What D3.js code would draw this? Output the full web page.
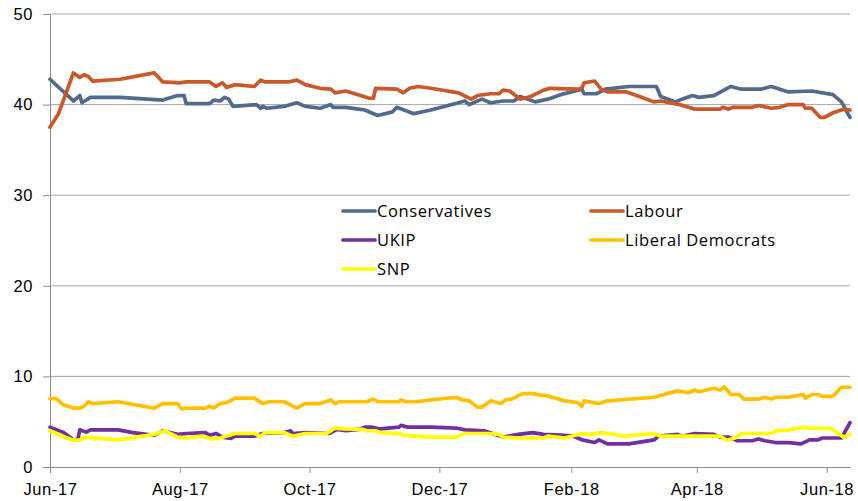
<!DOCTYPE html>
<html>
<head>
<meta charset="utf-8">
<script src="https://cdn.jsdelivr.net/npm/d3@7"></script>
<style>
  body { margin: 0; background: #fff; }
  svg { display: block; }
</style>
</head>
<body>
<div id="chart"></div>
<script>
// poll averages, [date, percent]
const conservatives = [
  ["2017-06-01", 42.8], ["2017-06-12", 40.4], ["2017-06-15", 41.0], ["2017-06-16", 40.2], ["2017-06-20", 40.8],
  ["2017-07-04", 40.8], ["2017-07-24", 40.5], ["2017-07-31", 41.0], ["2017-08-03", 41.0], ["2017-08-04", 40.1],
  ["2017-08-15", 40.1], ["2017-08-17", 40.5], ["2017-08-20", 40.4], ["2017-08-22", 40.8], ["2017-08-24", 40.6],
  ["2017-08-26", 39.8], ["2017-09-06", 40.0], ["2017-09-08", 39.6], ["2017-09-09", 39.8], ["2017-09-11", 39.6],
  ["2017-09-19", 39.8], ["2017-09-25", 40.2], ["2017-09-29", 39.8], ["2017-10-06", 39.6], ["2017-10-11", 40.0],
  ["2017-10-12", 39.7], ["2017-10-18", 39.7], ["2017-10-24", 39.5], ["2017-10-27", 39.4], ["2017-11-02", 38.8],
  ["2017-11-09", 39.2], ["2017-11-11", 39.7], ["2017-11-19", 39.0], ["2017-11-27", 39.4], ["2017-12-10", 40.2],
  ["2017-12-13", 40.4], ["2017-12-15", 40.0], ["2017-12-21", 40.6], ["2017-12-25", 40.2], ["2017-12-31", 40.4],
  ["2018-01-05", 40.4], ["2018-01-08", 40.9], ["2018-01-15", 40.3], ["2018-01-21", 40.6], ["2018-01-27", 41.1],
  ["2018-02-06", 41.7], ["2018-02-07", 41.2], ["2018-02-13", 41.2], ["2018-02-17", 41.7], ["2018-02-28", 42.0],
  ["2018-03-13", 42.0], ["2018-03-15", 40.9], ["2018-03-22", 40.3], ["2018-03-25", 40.6], ["2018-03-30", 41.0],
  ["2018-04-02", 40.8], ["2018-04-09", 41.0], ["2018-04-17", 42.0], ["2018-04-22", 41.7], ["2018-05-01", 41.7],
  ["2018-05-06", 42.0], ["2018-05-10", 41.7], ["2018-05-14", 41.4], ["2018-05-25", 41.5], ["2018-06-04", 41.1],
  ["2018-06-08", 40.3], ["2018-06-12", 38.6]
]

const labour = [
  ["2017-06-01", 37.5], ["2017-06-05", 39.0], ["2017-06-12", 43.5], ["2017-06-15", 43.0], ["2017-06-17", 43.3],
  ["2017-06-19", 43.1], ["2017-06-21", 42.6], ["2017-07-04", 42.8], ["2017-07-20", 43.5], ["2017-07-24", 42.5],
  ["2017-08-01", 42.4], ["2017-08-04", 42.5], ["2017-08-15", 42.5], ["2017-08-18", 42.0], ["2017-08-21", 42.4],
  ["2017-08-23", 41.9], ["2017-08-27", 42.2], ["2017-09-05", 42.0], ["2017-09-08", 42.7], ["2017-09-10", 42.5],
  ["2017-09-21", 42.5], ["2017-09-25", 42.7], ["2017-09-29", 42.2], ["2017-10-06", 41.8], ["2017-10-11", 41.7],
  ["2017-10-13", 41.3], ["2017-10-18", 41.5], ["2017-10-25", 41.0], ["2017-10-29", 40.7], ["2017-10-31", 40.7],
  ["2017-11-01", 41.8], ["2017-11-11", 41.7], ["2017-11-14", 41.3], ["2017-11-17", 41.8], ["2017-11-21", 42.0],
  ["2017-11-27", 41.8], ["2017-12-10", 41.3], ["2017-12-16", 40.6], ["2017-12-19", 41.0], ["2017-12-25", 41.2],
  ["2017-12-29", 41.2], ["2017-12-31", 41.6], ["2018-01-03", 41.5], ["2018-01-08", 40.6], ["2018-01-13", 40.9],
  ["2018-01-19", 41.6], ["2018-01-22", 41.8], ["2018-02-04", 41.7], ["2018-02-06", 41.8], ["2018-02-07", 42.4],
  ["2018-02-12", 42.6], ["2018-02-15", 41.7], ["2018-02-18", 41.4], ["2018-02-27", 41.4], ["2018-03-06", 40.8],
  ["2018-03-12", 40.3], ["2018-03-15", 40.4], ["2018-03-24", 40.0], ["2018-03-27", 39.8], ["2018-03-31", 39.5],
  ["2018-04-12", 39.5], ["2018-04-13", 39.7], ["2018-04-16", 39.5], ["2018-04-18", 39.7], ["2018-04-27", 39.7],
  ["2018-04-30", 39.9], ["2018-05-06", 39.6], ["2018-05-10", 39.7], ["2018-05-14", 40.0], ["2018-05-21", 40.0],
  ["2018-05-22", 39.6], ["2018-05-25", 39.6], ["2018-05-29", 38.6], ["2018-05-31", 38.6], ["2018-06-04", 39.1],
  ["2018-06-09", 39.5], ["2018-06-12", 39.4]
]

const ukip = [
  ["2017-06-01", 4.4], ["2017-06-07", 3.85], ["2017-06-12", 3.0], ["2017-06-14", 3.0], ["2017-06-15", 4.1],
  ["2017-06-18", 3.85], ["2017-06-20", 4.1], ["2017-07-03", 4.1], ["2017-07-10", 3.8], ["2017-07-20", 3.5],
  ["2017-07-24", 4.0], ["2017-07-31", 3.6], ["2017-08-04", 3.7], ["2017-08-13", 3.8], ["2017-08-15", 3.5],
  ["2017-08-18", 3.7], ["2017-08-21", 3.3], ["2017-08-25", 3.15], ["2017-08-27", 3.4], ["2017-09-05", 3.4],
  ["2017-09-09", 3.7], ["2017-09-19", 3.8], ["2017-09-22", 4.0], ["2017-09-23", 3.7], ["2017-09-29", 3.8],
  ["2017-10-10", 3.7], ["2017-10-14", 4.15], ["2017-10-18", 4.0], ["2017-10-24", 4.15], ["2017-10-27", 4.4],
  ["2017-10-30", 4.4], ["2017-11-03", 4.2], ["2017-11-12", 4.4], ["2017-11-13", 4.6], ["2017-11-16", 4.4],
  ["2017-11-27", 4.4], ["2017-12-09", 4.3], ["2017-12-13", 4.1], ["2017-12-22", 4.0], ["2017-12-31", 3.3],
  ["2018-01-07", 3.6], ["2018-01-14", 3.8], ["2018-01-19", 3.6], ["2018-01-29", 3.5], ["2018-02-02", 3.4],
  ["2018-02-06", 3.0], ["2018-02-12", 2.7], ["2018-02-14", 3.0], ["2018-02-18", 2.55], ["2018-02-28", 2.55],
  ["2018-03-12", 3.0], ["2018-03-14", 3.4], ["2018-03-23", 3.6], ["2018-03-25", 3.4], ["2018-03-31", 3.7],
  ["2018-04-09", 3.6], ["2018-04-12", 3.3], ["2018-04-16", 3.3], ["2018-04-20", 2.9], ["2018-04-27", 2.9],
  ["2018-04-30", 3.1], ["2018-05-03", 2.9], ["2018-05-08", 2.7], ["2018-05-14", 2.7], ["2018-05-20", 2.55],
  ["2018-05-24", 3.0], ["2018-05-28", 3.0], ["2018-05-30", 3.2], ["2018-06-08", 3.2], ["2018-06-12", 4.9]
]

const libDems = [
  ["2017-06-01", 7.55], ["2017-06-04", 7.55], ["2017-06-07", 6.9], ["2017-06-12", 6.5], ["2017-06-15", 6.5],
  ["2017-06-17", 6.7], ["2017-06-19", 7.2], ["2017-06-21", 7.0], ["2017-07-03", 7.2], ["2017-07-20", 6.5],
  ["2017-07-24", 7.0], ["2017-07-31", 7.0], ["2017-08-02", 6.4], ["2017-08-04", 6.5], ["2017-08-13", 6.5],
  ["2017-08-15", 6.7], ["2017-08-17", 6.5], ["2017-08-20", 7.0], ["2017-08-23", 7.1], ["2017-08-27", 7.6],
  ["2017-09-05", 7.6], ["2017-09-09", 7.0], ["2017-09-12", 7.2], ["2017-09-19", 7.2], ["2017-09-25", 6.5],
  ["2017-09-29", 7.0], ["2017-10-06", 7.0], ["2017-10-11", 7.4], ["2017-10-13", 7.0], ["2017-10-15", 7.2],
  ["2017-10-28", 7.2], ["2017-10-31", 7.5], ["2017-11-02", 7.2], ["2017-11-12", 7.2], ["2017-11-13", 7.4],
  ["2017-11-15", 7.2], ["2017-11-20", 7.2], ["2017-11-27", 7.4], ["2017-12-09", 7.7], ["2017-12-12", 7.4],
  ["2017-12-15", 7.3], ["2017-12-19", 6.6], ["2017-12-21", 6.6], ["2017-12-25", 7.3], ["2017-12-30", 7.0],
  ["2018-01-01", 7.4], ["2018-01-04", 7.5], ["2018-01-09", 8.1], ["2018-01-14", 8.1], ["2018-01-18", 7.9],
  ["2018-01-20", 7.9], ["2018-01-29", 7.3], ["2018-02-04", 7.1], ["2018-02-06", 6.7], ["2018-02-07", 7.3],
  ["2018-02-14", 7.0], ["2018-02-18", 7.3], ["2018-03-12", 7.7], ["2018-03-18", 8.1], ["2018-03-23", 8.4],
  ["2018-03-28", 8.2], ["2018-03-31", 8.5], ["2018-04-02", 8.3], ["2018-04-09", 8.7], ["2018-04-12", 8.5],
  ["2018-04-14", 8.85], ["2018-04-17", 8.0], ["2018-04-21", 8.0], ["2018-04-23", 7.5], ["2018-04-30", 7.5],
  ["2018-05-03", 7.7], ["2018-05-06", 7.5], ["2018-05-08", 7.7], ["2018-05-14", 7.7], ["2018-05-21", 8.0],
  ["2018-05-22", 7.6], ["2018-05-25", 8.0], ["2018-05-28", 8.0], ["2018-05-30", 7.8], ["2018-06-04", 7.8],
  ["2018-06-08", 8.8], ["2018-06-12", 8.8]
]

const snp = [
  ["2017-06-01", 4.0], ["2017-06-07", 3.4], ["2017-06-12", 2.96], ["2017-06-15", 2.96], ["2017-06-17", 3.3],
  ["2017-07-03", 3.0], ["2017-07-20", 3.6], ["2017-07-25", 4.0], ["2017-07-31", 3.3], ["2017-08-04", 3.2],
  ["2017-08-12", 3.4], ["2017-08-16", 3.1], ["2017-08-20", 3.2], ["2017-08-27", 3.7], ["2017-09-05", 3.7],
  ["2017-09-08", 3.4], ["2017-09-10", 3.8], ["2017-09-19", 3.8], ["2017-09-23", 3.4], ["2017-09-29", 3.7],
  ["2017-10-09", 3.7], ["2017-10-13", 4.3], ["2017-10-18", 4.2], ["2017-10-26", 4.15], ["2017-10-28", 4.0],
  ["2017-11-01", 4.0], ["2017-11-03", 3.8], ["2017-11-12", 3.7], ["2017-11-14", 3.5], ["2017-11-27", 3.3],
  ["2017-12-09", 3.3], ["2017-12-13", 3.7], ["2017-12-25", 3.7], ["2017-12-29", 3.6], ["2017-12-31", 3.3],
  ["2018-01-07", 3.2], ["2018-01-19", 3.2], ["2018-01-21", 3.4], ["2018-01-29", 3.2], ["2018-02-06", 3.7],
  ["2018-02-10", 3.6], ["2018-02-15", 3.8], ["2018-02-19", 3.7], ["2018-02-26", 3.4], ["2018-03-12", 3.7],
  ["2018-03-15", 3.4], ["2018-04-12", 3.4], ["2018-04-15", 2.96], ["2018-04-19", 3.2], ["2018-04-22", 3.7],
  ["2018-05-06", 3.7], ["2018-05-08", 4.0], ["2018-05-14", 4.07], ["2018-05-21", 4.4], ["2018-05-24", 4.3],
  ["2018-06-03", 4.26], ["2018-06-09", 3.3], ["2018-06-12", 3.6]
]

const partyNames = ["Conservatives", "Labour", "UKIP", "Liberal Democrats", "SNP"]
const partyColors = ["#546a8c", "#c9582b", "#7030a0", "#ffc000", "#ffff00"]
const yTicks = [0, 10, 20, 30, 40, 50]

const width = 858
const height = 501
const margin = { top: 14, right: 8, bottom: 34, left: 50 }
const parseDate = d3.timeParse("%Y-%m-%d")
const startDate = parseDate("2017-06-01")
const endDate = parseDate("2018-06-12")

const series = [conservatives, labour, ukip, libDems, snp].map((rows, i) => ({
  name: partyNames[i],
  color: partyColors[i],
  values: rows.map(r => ({ date: parseDate(r[0]), value: r[1] }))
}))

const x = d3.scaleTime()
  .domain([startDate, endDate])
  .range([margin.left, width - margin.right])

const y = d3.scaleLinear()
  .domain([0, 50])
  .range([height - margin.bottom, margin.top])

const svg = d3.select("#chart").append("svg")
  .attr("width", width)
  .attr("height", height)
  .attr("font-family", "'Open Sans', sans-serif")

// horizontal gridlines
svg.append("g")
  .attr("stroke", "#a6a6a6")
  .attr("stroke-width", 1)
  .selectAll("line")
  .data(yTicks.filter(d => d > 0))
  .join("line")
  .attr("x1", margin.left)
  .attr("x2", width - margin.right)
  .attr("y1", d => y(d))
  .attr("y2", d => y(d))

// y axis
const yAxis = svg.append("g")
  .attr("transform", `translate(${margin.left},0)`)
  .call(d3.axisLeft(y).tickValues(yTicks).tickSize(7).tickPadding(10))
yAxis.select(".domain").attr("stroke", "#8c8c8c")
yAxis.selectAll(".tick line").attr("stroke", "#8c8c8c")
yAxis.selectAll("text").attr("font-size", 16.5).attr("letter-spacing", 0.6).attr("fill", "#000")

// x axis, a tick every two months
const monthTicks = d3.timeMonth.range(startDate, endDate, 2)
const xAxis = svg.append("g")
  .attr("transform", `translate(0,${height - margin.bottom})`)
  .call(d3.axisBottom(x).tickValues(monthTicks).tickFormat(d3.timeFormat("%b-%y")).tickSize(6).tickPadding(10).tickSizeOuter(0))
xAxis.select(".domain").attr("stroke", "#8c8c8c")
xAxis.selectAll(".tick line").attr("stroke", "#8c8c8c")
xAxis.selectAll("text").attr("font-size", 16.5).attr("letter-spacing", 0.6).attr("fill", "#000")

const line = d3.line()
  .x(d => x(d.date))
  .y(d => y(d.value))

svg.append("g")
  .attr("fill", "none")
  .attr("stroke-width", 3.7)
  .attr("stroke-linejoin", "round")
  .attr("stroke-linecap", "round")
  .selectAll("path")
  .data(series)
  .join("path")
  .attr("stroke", d => d.color)
  .attr("d", d => line(d.values))

// legend, two columns
const legend = svg.append("g")
  .selectAll("g")
  .data(series)
  .join("g")
  .attr("transform", (d, i) => `translate(${343 + (i % 2) * 248},${211 + Math.floor(i / 2) * 29})`)

legend.append("line")
  .attr("x1", 0)
  .attr("x2", 32)
  .attr("stroke", d => d.color)
  .attr("stroke-width", 3.7)
  .attr("stroke-linecap", "round")

legend.append("text")
  .attr("x", 34)
  .attr("dy", "0.35em")
  .attr("font-size", 16.5)
  .attr("letter-spacing", 0.6)
  .text(d => d.name)
</script>
</body>
</html>
